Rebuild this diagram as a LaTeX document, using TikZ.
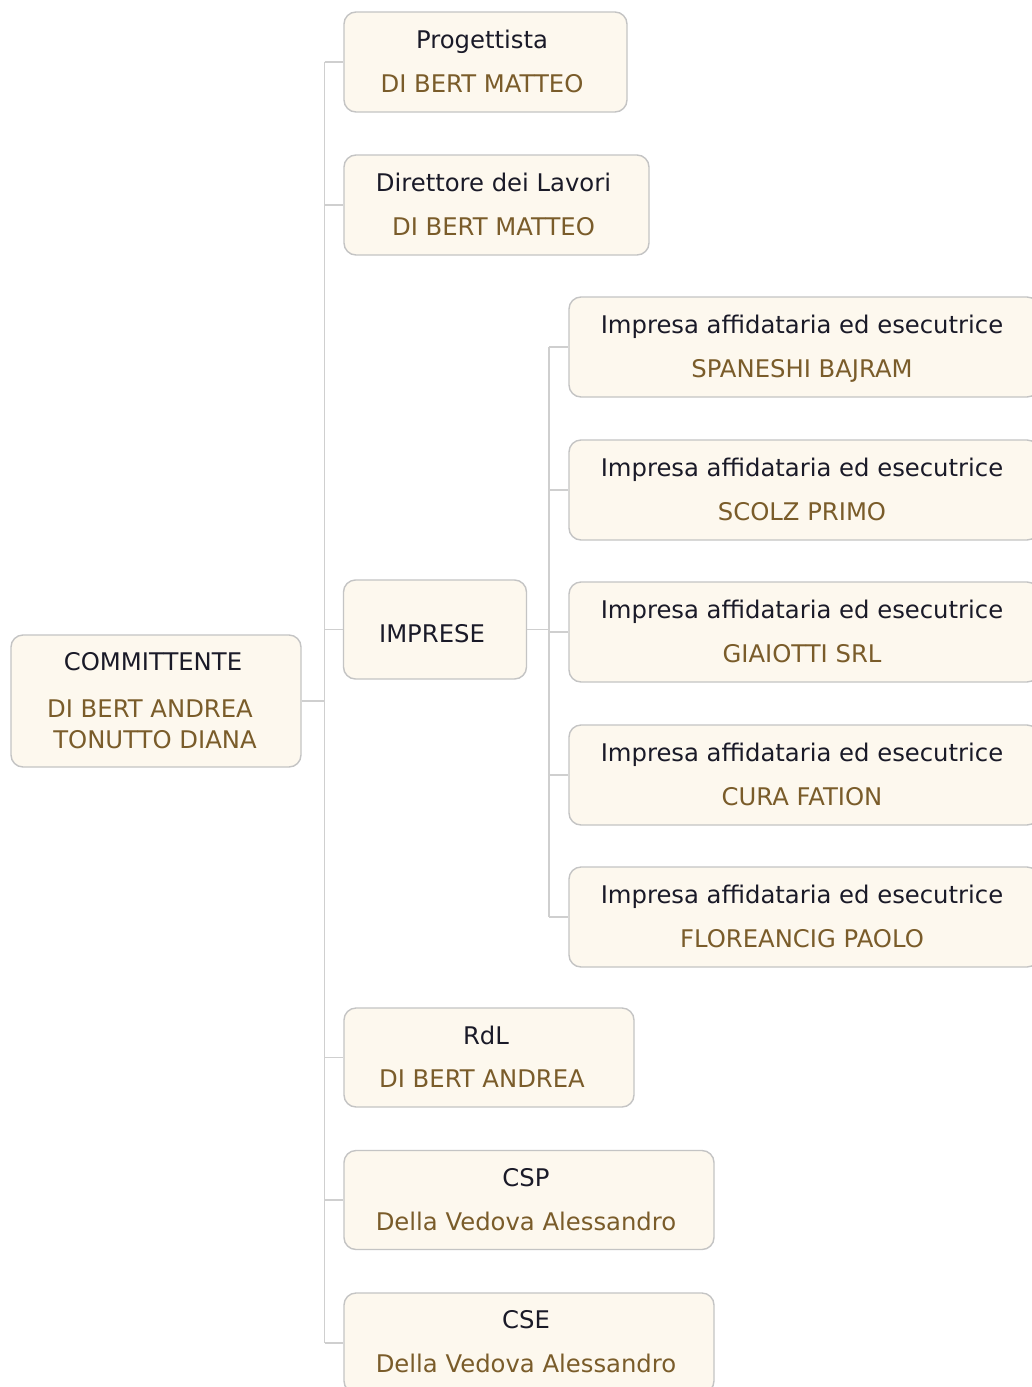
\documentclass[tikz,border=0pt]{standalone}
\usepackage{fontspec}
\setmainfont{DejaVu Sans}
\definecolor{boxfill}{HTML}{FDF8EE}
\definecolor{boxline}{HTML}{C4C4C4}
\definecolor{wire}{HTML}{CFCFCF}
\definecolor{titlecol}{HTML}{1A1A28}
\definecolor{namecol}{HTML}{7A5C2A}
\begin{document}
\begin{tikzpicture}[x=1pt,y=-1pt,
  card/.style={draw=boxline, line width=1.4pt, fill=boxfill, rounded corners=12pt, inner sep=0pt},
  ttl/.style={anchor=base, text=titlecol, inner sep=0pt, font=\fontsize{24.3}{28}\selectfont},
  nm/.style={anchor=base, text=namecol, inner sep=0pt, font=\fontsize{24.3}{28}\selectfont},
  wirestyle/.style={draw=wire, line width=1.5pt}]
\useasboundingbox (0,0) rectangle (1032,1387);
\clip (0,0) rectangle (1032,1387);
\fill[white] (0,0) rectangle (1032,1387);
\coordinate (bus) at (324.5,0);
\coordinate (sub) at (549,0);
% COMMITTENTE
\node[card, minimum width=290pt, minimum height=132pt] (comm) at (156,701) {};
\node[ttl] (commt) at (153,670) {COMMITTENTE};
\node[nm] (commn1) at (150,717) {DI BERT ANDREA};
\node[nm] (commn2) at (155,748) {TONUTTO DIANA};
% Progettista
\node[card, minimum width=283pt, minimum height=100pt] (prog) at (485.5,62) {};
\node[ttl] (progt) at (482,48) {Progettista};
\node[nm] (progn) at (482,92) {DI BERT MATTEO};
% Direttore
\node[card, minimum width=305pt, minimum height=100pt] (dir) at (496.5,205) {};
\node[ttl] (dirt) at (493.5,191) {Direttore dei Lavori};
\node[nm] (dirn) at (493.5,235) {DI BERT MATTEO};
% IMPRESE
\node[card, minimum width=183pt, minimum height=99pt] (imp) at (435,629.5) {};
\node[ttl] (impt) at (432,642) {IMPRESE};
% Imprese children
\node[card, minimum width=470pt, minimum height=100pt] (i1) at (804,347) {};
\node[ttl] (i1t) at (802,333) {Impresa affidataria ed esecutrice};
\node[nm] (i1n) at (802,377) {SPANESHI BAJRAM};
\node[card, minimum width=470pt, minimum height=100pt] (i2) at (804,490) {};
\node[ttl] (i2t) at (802,476) {Impresa affidataria ed esecutrice};
\node[nm] (i2n) at (802,520) {SCOLZ PRIMO};
\node[card, minimum width=470pt, minimum height=100pt] (i3) at (804,632) {};
\node[ttl] (i3t) at (802,618) {Impresa affidataria ed esecutrice};
\node[nm] (i3n) at (802,662) {GIAIOTTI SRL};
\node[card, minimum width=470pt, minimum height=100pt] (i4) at (804,775) {};
\node[ttl] (i4t) at (802,761) {Impresa affidataria ed esecutrice};
\node[nm] (i4n) at (802,805) {CURA FATION};
\node[card, minimum width=470pt, minimum height=100pt] (i5) at (804,917) {};
\node[ttl] (i5t) at (802,903) {Impresa affidataria ed esecutrice};
\node[nm] (i5n) at (802,947) {FLOREANCIG PAOLO};
% RdL
\node[card, minimum width=290pt, minimum height=99pt] (rdl) at (489,1057.5) {};
\node[ttl] (rdlt) at (486,1044) {RdL};
\node[nm] (rdln) at (482,1087) {DI BERT ANDREA};
% CSP
\node[card, minimum width=370pt, minimum height=99pt] (csp) at (529,1200) {};
\node[ttl] (cspt) at (526,1186) {CSP};
\node[nm] (cspn) at (526,1230) {Della Vedova Alessandro};
% CSE
\node[card, minimum width=370pt, minimum height=100pt] (cse) at (529,1343) {};
\node[ttl] (cset) at (526,1328) {CSE};
\node[nm] (csen) at (526,1372) {Della Vedova Alessandro};
% connectors
\draw[wirestyle] (bus |- prog.west) -- (bus |- cse.west);
\draw[wirestyle] (comm.east) -- (comm.east -| bus);
\foreach \n in {prog,dir,imp,rdl,csp,cse}
  \draw[wirestyle] (bus |- \n.west) -- (\n.west);
\draw[wirestyle] (sub |- i1.west) -- (sub |- i5.west);
\draw[wirestyle] (imp.east) -- (imp.east -| sub);
\foreach \n in {i1,i2,i3,i4,i5}
  \draw[wirestyle] (sub |- \n.west) -- (\n.west);
\end{tikzpicture}
\end{document}
